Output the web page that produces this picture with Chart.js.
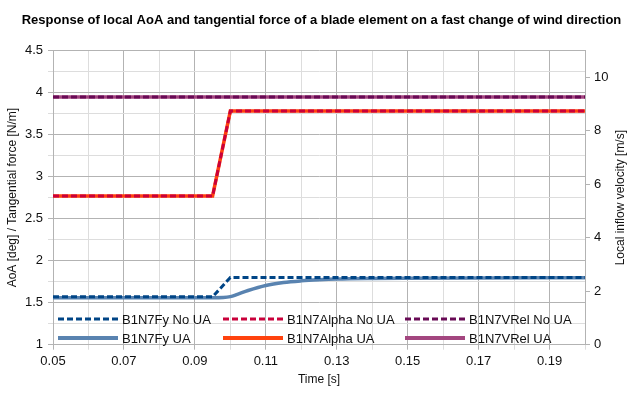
<!DOCTYPE html>
<html>
<head>
<meta charset="utf-8">
<script src="https://cdn.jsdelivr.net/npm/chart.js@4/dist/chart.umd.min.js"></script>
<style>
  html, body { margin: 0; padding: 0; background: #fff; }
  #wrap { width: 643px; height: 393px; }
</style>
</head>
<body>
<div id="wrap"><canvas id="c" width="643" height="393"></canvas></div>
<script>
// ---- data ----
const stepTime   = [0.05, 0.095, 0.1, 0.2];
const fyNoUA     = [1.57, 1.57, 1.80, 1.80];
const alphaNoUA  = [2.77, 2.77, 3.78, 3.78];
const alphaUA    = [2.77, 2.77, 3.78, 3.78];

const fyUATime   = [0.05, 0.095, 0.098, 0.1, 0.102, 0.105, 0.11, 0.115, 0.12, 0.125, 0.13, 0.14, 0.15, 0.17, 0.2];
const fyUA       = [1.56, 1.56, 1.562, 1.572, 1.60, 1.645, 1.705, 1.740, 1.760, 1.773, 1.782, 1.789, 1.792, 1.795, 1.797];

const vrelTime   = [0.05, 0.2];
const vrelNoUA   = [9.26, 9.26];
const vrelUA     = [9.26, 9.26];

const seriesNames = ['B1N7Fy No UA', 'B1N7Alpha No UA', 'B1N7VRel No UA', 'B1N7Fy UA', 'B1N7Alpha UA', 'B1N7VRel UA'];
const xTickLabels = ['0.05', '0.07', '0.09', '0.11', '0.13', '0.15', '0.17', '0.19'];
const yTickLabels = ['1', '1.5', '2', '2.5', '3', '3.5', '4', '4.5'];
const y1TickLabels = ['0', '2', '4', '6', '8', '10'];

const titleText = 'Response of local AoA and tangential force of a blade element on a fast change of wind direction';
const xTitle = 'Time [s]';
const yTitle = 'AoA [deg] / Tangential force [N/m]';
const y1Title = 'Local inflow velocity [m/s]';

// ---- build ----
const pts = (xs, ys) => xs.map((x, i) => ({ x: x, y: ys[i] }));
const MAJOR = '#b3b3b3', MINOR = '#dddddd';
const FONT = 'Liberation Sans, Arial, sans-serif';
Chart.defaults.font.family = FONT;

const datasets = [
  { label: seriesNames[0], data: pts(stepTime, fyNoUA), borderColor: '#004586', borderWidth: 3, borderDash: [6, 3], yAxisID: 'y' },
  { label: seriesNames[1], data: pts(stepTime, alphaNoUA), borderColor: '#c9003a', borderWidth: 3, borderDash: [6, 3], yAxisID: 'y' },
  { label: seriesNames[2], data: pts(vrelTime, vrelNoUA), borderColor: '#680a55', borderWidth: 3, borderDash: [6, 3], yAxisID: 'y1' },
  { label: seriesNames[3], data: pts(fyUATime, fyUA), borderColor: '#5983b0', borderWidth: 3.5, cubicInterpolationMode: 'monotone', yAxisID: 'y' },
  { label: seriesNames[4], data: pts(stepTime, alphaUA), borderColor: '#ff420e', borderWidth: 3.5, yAxisID: 'y' },
  { label: seriesNames[5], data: pts(vrelTime, vrelUA), borderColor: '#a3467f', borderWidth: 3.5, yAxisID: 'y1' }
];
datasets.forEach(d => { d.pointRadius = 0; d.fill = false; d.borderCapStyle = 'butt'; d.borderJoinStyle = 'miter'; });

const legendPlugin = {
  id: 'customLegend',
  afterDatasetsDraw(chart) {
    const ctx = chart.ctx;
    const colX = [58, 223, 405];
    const rowY = [319, 338];
    ctx.save();
    chart.data.datasets.forEach((ds, i) => {
      const r = Math.floor(i / 3), c = i % 3;
      const x0 = colX[c], y = rowY[r];
      ctx.beginPath();
      ctx.lineWidth = ds.borderDash ? 3 : 4;
      ctx.strokeStyle = ds.borderColor;
      ctx.setLineDash(ds.borderDash || []);
      ctx.lineCap = 'butt';
      ctx.moveTo(x0, y);
      ctx.lineTo(x0 + 60, y);
      ctx.stroke();
      ctx.setLineDash([]);
      ctx.fillStyle = '#111';
      ctx.font = '13px ' + FONT;
      ctx.textBaseline = 'middle';
      ctx.textAlign = 'left';
      ctx.fillText(ds.label, x0 + 64, y + 1);
    });
    // right axis title (reads bottom-to-top)
    const a = chart.chartArea;
    ctx.translate(621, (a.top + a.bottom) / 2);
    ctx.rotate(-Math.PI / 2);
    ctx.font = '12px ' + FONT;
    ctx.fillStyle = '#111';
    ctx.textAlign = 'center';
    ctx.textBaseline = 'middle';
    ctx.fillText(y1Title, 0, 0);
    ctx.restore();
  }
};

new Chart(document.getElementById('c'), {
  type: 'line',
  data: { datasets },
  plugins: [legendPlugin],
  options: {
    responsive: false,
    animation: false,
    devicePixelRatio: 1,
    layout: { padding: 0 },
    plugins: {
      legend: { display: false },
      tooltip: { enabled: false },
      title: {
        display: true, text: titleText, color: '#000',
        font: { family: FONT, size: 13, weight: 'bold' },
        padding: { top: 13, bottom: 22 }
      }
    },
    scales: {
      x: {
        type: 'linear', min: 0.05, max: 0.2,
        afterFit: s => { s.height = 48.3; },
        ticks: {
          stepSize: 0.01, autoSkip: false, maxRotation: 0, padding: 4, color: '#111',
          font: { size: 13 },
          callback: v => { const t = (+v).toFixed(2); return xTickLabels.includes(t) ? t : ''; }
        },
        grid: {
          color: c => { const k = Math.round(c.tick.value * 100); return (k % 2 === 1 || k === 20) ? MAJOR : MINOR; },
          tickColor: c => { const k = Math.round(c.tick.value * 100); return (k % 2 === 1) ? MAJOR : MINOR; },
          tickLength: 5, lineWidth: 1
        },
        border: { color: MAJOR },
        title: { display: true, text: xTitle, color: '#111', font: { size: 12 }, padding: { top: 0, bottom: 6 } }
      },
      y: {
        type: 'linear', position: 'left', min: 1, max: 4.5,
        afterFit: s => { s.width = 53; },
        ticks: {
          stepSize: 0.25, autoSkip: false, padding: 5, color: '#111', font: { size: 13 },
          callback: v => { const t = String(Math.round(v * 100) / 100); return yTickLabels.includes(t) ? t : ''; }
        },
        grid: {
          color: c => (Math.round(c.tick.value * 4) % 2 === 0) ? MAJOR : MINOR,
          tickColor: c => (Math.round(c.tick.value * 4) % 2 === 0) ? MAJOR : MINOR,
          tickLength: 5
        },
        border: { color: MAJOR },
        title: { display: true, text: yTitle, color: '#111', font: { size: 12 }, padding: { top: 5, bottom: 0 } }
      },
      y1: {
        type: 'linear', position: 'right', min: 0, max: 11,
        afterFit: s => { s.width = 58; },
        ticks: {
          stepSize: 2, autoSkip: false, padding: 4, color: '#111', font: { size: 13 },
          callback: v => { const t = String(v); return y1TickLabels.includes(t) ? t : ''; }
        },
        grid: {
          drawOnChartArea: false,
          tickColor: c => (c.tick.value === 11 ? 'rgba(0,0,0,0)' : MAJOR),
          tickLength: 5
        },
        border: { color: MAJOR },
        title: { display: false }
      }
    }
  }
});
</script>
</body>
</html>
